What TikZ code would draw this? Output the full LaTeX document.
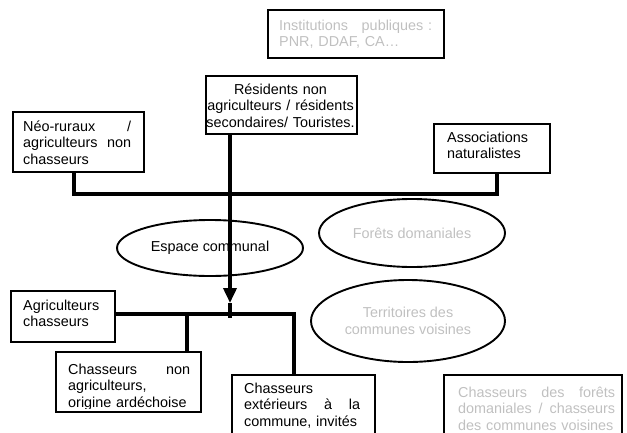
\documentclass[tikz,border=0pt]{standalone}
\usepackage{fontspec}
\setmainfont{Liberation Sans}
\usetikzlibrary{shapes.geometric,arrows.meta}
\definecolor{paletext}{RGB}{192,192,192}
\newcommand{\tstrut}{\rule{0pt}{11.5pt}}
\newcommand{\paletxt}{\color{paletext}}
\begin{document}
\begin{tikzpicture}[x=1pt,y=-1pt,
  every node/.style={font=\fontsize{14.4}{16.5}\selectfont},
  box/.style={draw=black, line width=1.6pt, rectangle, inner sep=0pt, anchor=north west},
  txt/.style={inner sep=0pt, anchor=north west},
  ell/.style={draw=black, ellipse, line width=1.9pt, inner sep=0pt, align=center},
  conn/.style={line width=3.6pt}]
\useasboundingbox (0,0) rectangle (627,432);
\clip (0,0) rectangle (627,432);

% boxes
\node[box, minimum width=176pt, minimum height=48pt] (inst) at (267,9) {};
\node[box, minimum width=151pt, minimum height=58pt] (res) at (205,75) {};
\node[box, minimum width=131pt, minimum height=60pt] (neo) at (12,111) {};
\node[box, minimum width=116pt, minimum height=49pt] (asso) at (433,123) {};
\node[box, minimum width=104pt, minimum height=51pt] (agri) at (10,290) {};
\node[box, minimum width=145pt, minimum height=60pt] (cna) at (55,351) {};
\node[box, minimum width=143pt, minimum height=70pt] (cext) at (231,374) {};
\node[box, minimum width=178pt, minimum height=70pt] (cfor) at (443,374) {};

% texts
\node[txt, text width=153pt] (instT) at (279,18.5)
  {\paletxt\tstrut Institutions\hfill publiques :\\PNR, DDAF, CA…};
\node[txt, anchor=north, text width=151pt, align=center] (resT) at (280.5,82.5)
  {\tstrut Résidents non\\agriculteurs / résidents\\secondaires/ Touristes.};
\node[txt, text width=108pt] (neoT) at (23,119.5)
  {\tstrut Néo-ruraux\hfill/\\agriculteurs\hfill non\\chasseurs};
\node[txt, align=left] (assoT) at (447,130.5)
  {\tstrut Associations\\naturalistes};
\node[txt, align=left] (agriT) at (23,298.5)
  {\tstrut Agriculteurs\\chasseurs};
\begin{scope}
  \clip (55,351) rectangle (200,408.5);
  \node[txt, text width=122pt] (cnaT) at (68,362.5)
    {\tstrut Chasseurs\hfill non\\agriculteurs,\\origine ardéchoise};
\end{scope}
\begin{scope}
  \clip (231,374) rectangle (374,427.5);
  \node[txt, text width=116pt] (cextT) at (244,381.5)
    {\tstrut Chasseurs\\extérieurs\hfill à\hfill la\\commune, invités};
\end{scope}
\node[txt, text width=157pt] (cforT) at (458,385.5)
  {\paletxt\tstrut Chasseurs\hfill des\hfill forêts\\domaniales\hfill /\hfill chasseurs\\des communes voisines};

% ellipses
\node[ell, minimum width=186pt, minimum height=56pt] (esp) at (210,248) {Espace communal};
\node[ell, minimum width=186pt, minimum height=68pt] (forets) at (412,233) {\paletxt Forêts domaniales};
\node[ell, minimum width=194pt, minimum height=82pt] (terr) at (408,321) {\paletxt Territoires des\\\paletxt communes voisines};

% connector points
\coordinate (neoB) at (74,171);
\coordinate (busL) at (74,194);
\coordinate (busR) at (497,194);
\coordinate (assoB) at (497,172);
\coordinate (resB) at (230,133);
\coordinate (arrTip) at (230,303);
\coordinate (arrEnd) at (230,318);
\coordinate (agriR) at (114,314);
\coordinate (j1) at (187,314);
\coordinate (j2) at (294,314);
\coordinate (cnaTop) at (187,351);
\coordinate (cextTop) at (294,374);

% connectors
\draw[conn] (neoB) -- (busL) -- (busR) -- (assoB);
\draw[conn, -{Triangle[length=15pt,width=13pt]}] (resB) -- (arrTip);
\draw[conn] (arrTip) -- (arrEnd);
\draw[conn] (agriR) -- (j2) -- (cextTop);
\draw[conn] (j1) -- (cnaTop);
\end{tikzpicture}
\end{document}
